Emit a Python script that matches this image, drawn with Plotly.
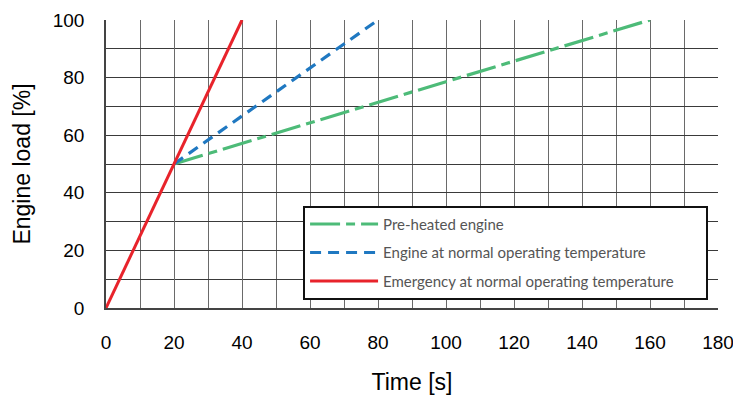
import plotly.graph_objects as go

# Data
preheated_time = [20, 160]
preheated_load = [50, 100]
normal_time = [20, 80]
normal_load = [50, 100]
emergency_time = [0, 40]
emergency_load = [0, 100]

series_names = [
    "Pre-heated engine",
    "Engine at normal operating temperature",
    "Emergency at normal operating temperature",
]

x_tickvals = [0, 20, 40, 60, 80, 100, 120, 140, 160, 180]
y_tickvals = [0, 20, 40, 60, 80, 100]

fig = go.Figure()

pad = "&nbsp;" * 7

fig.add_trace(go.Scatter(x=preheated_time, y=preheated_load, mode="lines",
                         name=series_names[0] + pad, legendgroup="a",
                         line=dict(color="#4dbb78", width=3.2, dash="30px,6px,9px,6px")))
fig.add_trace(go.Scatter(x=normal_time, y=normal_load, mode="lines",
                         name=series_names[1] + pad, legendgroup="b",
                         line=dict(color="#1f78c1", width=3.2, dash="11px,7px")))
fig.add_trace(go.Scatter(x=emergency_time, y=emergency_load, mode="lines",
                         name=series_names[2] + pad, legendgroup="c",
                         line=dict(color="#e8232b", width=3)))

axis_font = dict(family="Liberation Sans, Arial, sans-serif", size=19, color="#000")
title_font = dict(family="Liberation Sans, Arial, sans-serif", size=23, color="#000")

# page body has an 8px margin, so the figure is sized to fit the window
fig.update_layout(
    width=733, height=393,
    margin=dict(l=98, r=23, t=12, b=93, autoexpand=False),
    paper_bgcolor="white", plot_bgcolor="white",
    font=dict(family="Liberation Sans, Arial, sans-serif"),
    legend=dict(
        x=0.322, y=0.355, xanchor="left", yanchor="top",
        bgcolor="white", bordercolor="#111", borderwidth=2,
        font=dict(family="Lato, Open Sans, sans-serif", size=15, color="#555"),
        itemwidth=68, traceorder="grouped", tracegroupgap=6,
    ),
    xaxis=dict(
        range=[0, 180], tickvals=x_tickvals, ticktext=[str(v) for v in x_tickvals],
        tickfont=axis_font, ticks="", ticklabelstandoff=16, automargin=False,
        showgrid=True, gridcolor="#6a6a6a", gridwidth=1.2,
        minor=dict(dtick=10, showgrid=True, gridcolor="#6a6a6a", gridwidth=1.2),
        showline=True, linecolor="#444", linewidth=1.5,
        zeroline=False,
        title=dict(text="Time [s]", font=title_font, standoff=22),
    ),
    yaxis=dict(
        range=[0, 100], tickvals=y_tickvals, ticktext=[str(v) for v in y_tickvals],
        tickfont=axis_font, ticks="", ticklabelstandoff=16, automargin=False,
        showgrid=True, gridcolor="#3a3a3a", gridwidth=1,
        minor=dict(dtick=10, showgrid=True, gridcolor="#3a3a3a", gridwidth=1),
        showline=True, linecolor="#444", linewidth=1.5,
        zeroline=False,
        title=dict(text="Engine load [%]", font=title_font, standoff=16),
    ),
)

fig.write_html("out.html")
